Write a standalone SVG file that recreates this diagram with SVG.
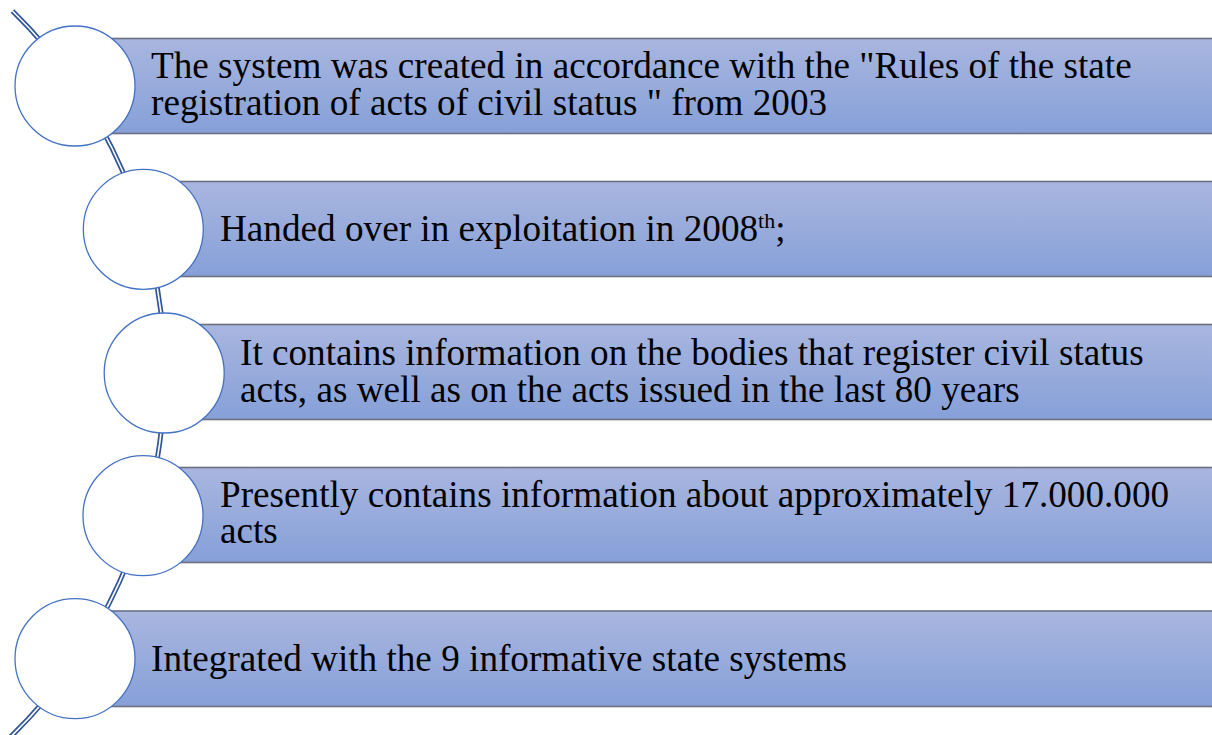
<svg xmlns="http://www.w3.org/2000/svg" width="1212" height="735" viewBox="0 0 1212 735">
  <defs>
    <linearGradient id="barGrad" x1="0" y1="0" x2="0" y2="1">
      <stop offset="0" stop-color="#a9b6df"/>
      <stop offset="1" stop-color="#86a0d8"/>
    </linearGradient>
    <style>
      .bar { fill: url(#barGrad); stroke: #6b7080; stroke-width: 1.6; }
      .dot { fill: #ffffff; stroke: #4472c4; stroke-width: 1.3; }
      .lbl { font-family: "Liberation Serif", "Times New Roman", serif; font-size: 37.2px; fill: #000000; }
      .sup { font-size: 22px; }
      .rail { fill: none; stroke: #2f5597; stroke-width: 5; }
      .gap { fill: none; stroke: #ffffff; stroke-width: 1.6; }
    </style>
  </defs>
  <rect width="1212" height="735" fill="#ffffff"/>

  <g id="connectors">
    <path class="rail" d="M 12.5 11 A 507 507 0 0 1 7.3 740"/>
    <path class="gap" d="M 12.5 11 A 507 507 0 0 1 7.3 740"/>
  </g>

  <g id="node1">
    <rect class="bar" x="75" y="38.5" width="1150" height="95"/>
    <circle class="dot" cx="75" cy="86" r="60"/>
    <text class="lbl" x="151" y="78">The system was created in accordance with the "Rules of the state</text>
    <text class="lbl" x="151" y="115">registration of acts of civil status " from 2003</text>
  </g>

  <g id="node2">
    <rect class="bar" x="143" y="181.5" width="1080" height="95"/>
    <circle class="dot" cx="143.3" cy="229.3" r="60"/>
    <text class="lbl" x="220" y="241">Handed over in exploitation in 2008<tspan class="sup" dy="-13">th</tspan><tspan dy="13">;</tspan></text>
  </g>

  <g id="node3">
    <rect class="bar" x="164" y="324.5" width="1060" height="95"/>
    <circle class="dot" cx="164.2" cy="373" r="60"/>
    <text class="lbl" x="240" y="365">It contains information on the bodies that register civil status</text>
    <text class="lbl" x="240" y="401.5">acts, as well as on the acts issued in the last 80 years</text>
  </g>

  <g id="node4">
    <rect class="bar" x="143" y="467.5" width="1080" height="95"/>
    <circle class="dot" cx="143" cy="515.7" r="60"/>
    <text class="lbl" x="220" y="506.7">Presently contains information about approximately 17.000.000</text>
    <text class="lbl" x="220" y="543.3">acts</text>
  </g>

  <g id="node5">
    <rect class="bar" x="75" y="611" width="1150" height="95.5"/>
    <circle class="dot" cx="75" cy="658.7" r="60"/>
    <text class="lbl" x="151" y="670.5">Integrated with the 9 informative state systems</text>
  </g>
</svg>
